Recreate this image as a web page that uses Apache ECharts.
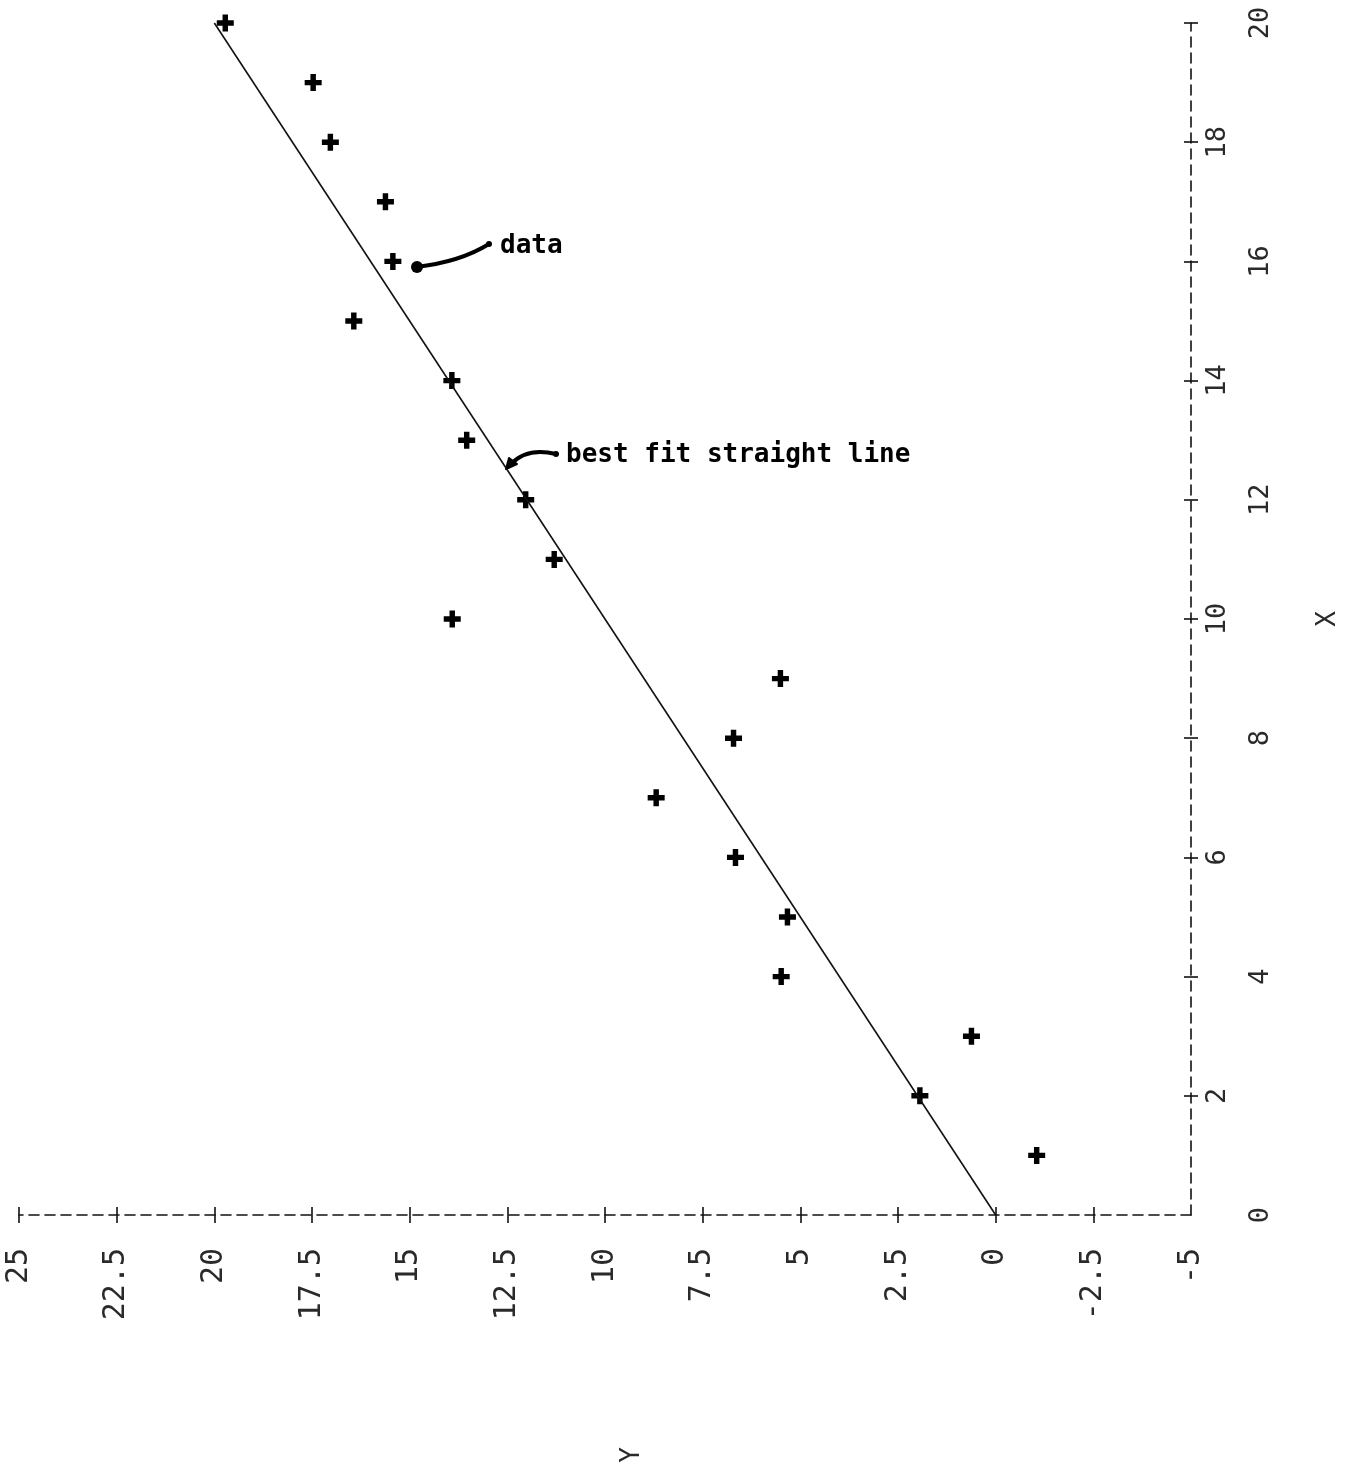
<!DOCTYPE html>
<html>
<head>
<meta charset="utf-8">
<script src="https://cdn.jsdelivr.net/npm/echarts@6/dist/echarts.min.js"></script>
<style>
  html, body { margin: 0; padding: 0; background: #ffffff; }
  #chart { width: 1355px; height: 1468px; }
</style>
</head>
<body>
<div id="chart"></div>
<script>
// Data: X (independent, drawn vertically) and Y (dependent, drawn horizontally, rotated plot)
var xValues = [20, 19, 18, 17, 16, 15, 14, 13, 12, 11, 10, 9, 8, 7, 6, 5, 4, 3, 2, 1];
var yValues = [19.72, 17.47, 17.03, 15.62, 15.43, 16.43, 13.92, 13.54, 12.03, 11.30,
               13.91, 5.51, 6.71, 8.69, 6.66, 5.33, 5.49, 0.62, 1.94, -1.05];
// best fit straight line end points [X, Y]
var fitX = [0, 20];
var fitY = [0, 20];
// tick values
var yTickValues = [-2.5, 0, 2.5, 5, 7.5, 10, 12.5, 15, 17.5, 20, 22.5, 25];
var yLabelValues = [-5, -2.5, 0, 2.5, 5, 7.5, 10, 12.5, 15, 17.5, 20, 22.5, 25];
var xTickValues = [2, 4, 6, 8, 10, 12, 14, 16, 18, 20];
var xLabelsNear = [2, 6, 10, 14, 18];
var xLabelsFar = [0, 4, 8, 12, 16, 20];

var scatterData = xValues.map(function (x, i) { return [yValues[i], x]; });
var lineData = fitX.map(function (x, i) { return [fitY[i], x]; });

var ink = '#111111';
var labelInk = '#2a2a2a';
var plotFont = 'DejaVu Sans Mono';
var plusPath = 'path://M3.4,0 H6.6 V3.4 H10 V6.6 H6.6 V10 H3.4 V6.6 H0 V3.4 H3.4 Z';

var chart = echarts.init(document.getElementById('chart'), null, { renderer: 'canvas' });

var baseX = { type: 'value', min: -5, max: 25, interval: 2.5, inverse: true, position: 'bottom', splitLine: { show: false } };
var baseY = { type: 'value', min: 0, max: 20, interval: 2, position: 'right', splitLine: { show: false } };

var option = {
  backgroundColor: '#ffffff',
  animation: false,
  grid: { left: 19, right: 164, top: 23, bottom: 253, containLabel: false },
  xAxis: [
    Object.assign({}, baseX, {
      axisLine: { show: true, onZero: false, lineStyle: { color: ink, width: 1.6, type: [10, 6] } },
      axisTick: { show: true, inside: false, length: 8, customValues: yTickValues, lineStyle: { color: ink, width: 1.6 } },
      axisLabel: { show: true, rotate: 90, margin: 33, customValues: yLabelValues, color: labelInk, fontFamily: plotFont, fontSize: 30 }
    }),
    Object.assign({}, baseX, {
      axisLine: { show: false, onZero: false },
      axisTick: { show: true, inside: true, length: 8, customValues: yTickValues, lineStyle: { color: ink, width: 1.6 } },
      axisLabel: { show: false }
    })
  ],
  yAxis: [
    Object.assign({}, baseY, {
      name: 'X', nameLocation: 'middle', nameRotate: 90, nameGap: 124,
      nameTextStyle: { color: labelInk, fontFamily: plotFont, fontSize: 26 },
      axisLine: { show: true, onZero: false, lineStyle: { color: ink, width: 1.6, type: [10, 6] } },
      axisTick: { show: true, inside: false, length: 7, customValues: xTickValues, lineStyle: { color: ink, width: 1.6 } },
      axisLabel: { show: true, rotate: 90, margin: 13, customValues: xLabelsNear, color: labelInk, fontFamily: plotFont, fontSize: 27 }
    }),
    Object.assign({}, baseY, {
      axisLine: { show: false, onZero: false },
      axisTick: { show: true, inside: true, length: 7, customValues: xTickValues, lineStyle: { color: ink, width: 1.6 } },
      axisLabel: { show: true, rotate: 90, margin: 56, customValues: xLabelsFar, color: labelInk, fontFamily: plotFont, fontSize: 27 }
    })
  ],
  series: [
    {
      type: 'line', xAxisIndex: 0, yAxisIndex: 0, data: lineData,
      showSymbol: false, symbol: 'none', silent: true,
      lineStyle: { color: ink, width: 1.6 }
    },
    {
      type: 'scatter', xAxisIndex: 0, yAxisIndex: 0, data: scatterData,
      symbol: plusPath, symbolSize: 17, silent: true,
      itemStyle: { color: '#000000', opacity: 1 }
    }
  ],
  graphic: [
    { type: 'text', x: 632, y: 1455, rotation: Math.PI / 2,
      style: { text: 'Y', fill: labelInk, font: '26px "DejaVu Sans Mono"', align: 'center', verticalAlign: 'middle' } },
    { type: 'text', x: 500, y: 246,
      style: { text: 'data', fill: '#000', font: 'bold 26px "DejaVu Sans Mono"', align: 'left', verticalAlign: 'middle' } },
    { type: 'bezierCurve', shape: { x1: 489, y1: 244, cpx1: 460, cpy1: 262, x2: 416, y2: 267 },
      style: { stroke: '#000', lineWidth: 4, fill: null, lineCap: 'round' } },
    { type: 'circle', shape: { cx: 417, cy: 267, r: 6 }, style: { fill: '#000' } },
    { type: 'circle', shape: { cx: 489, cy: 244, r: 3 }, style: { fill: '#000' } },
    { type: 'text', x: 566, y: 455,
      style: { text: 'best fit straight line', fill: '#000', font: 'bold 26px "DejaVu Sans Mono"', align: 'left', verticalAlign: 'middle' } },
    { type: 'bezierCurve', shape: { x1: 556, y1: 454, cpx1: 527, cpy1: 447, x2: 511, y2: 464 },
      style: { stroke: '#000', lineWidth: 4, fill: null, lineCap: 'round' } },
    { type: 'polygon', shape: { points: [[506, 469], [509, 458], [517, 464]] }, style: { fill: '#000', stroke: '#000', lineWidth: 2, lineJoin: 'round' } },
    { type: 'circle', shape: { cx: 556, cy: 454, r: 3 }, style: { fill: '#000' } }
  ]
};

chart.setOption(option);
</script>
</body>
</html>
